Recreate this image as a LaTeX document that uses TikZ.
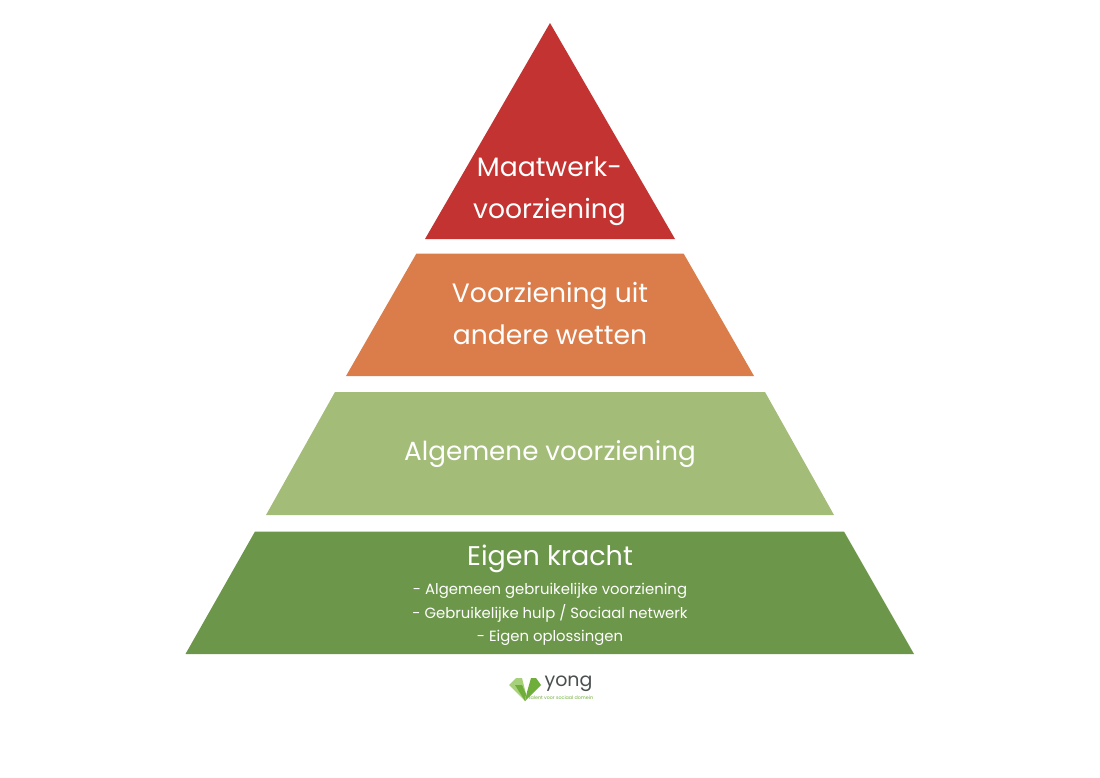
\documentclass[tikz,border=0pt]{standalone}
\usepackage{fontspec}
\setmainfont{Poppins}
\definecolor{cRed}{HTML}{C23331}
\definecolor{cOrange}{HTML}{DB7D4A}
\definecolor{cLight}{HTML}{A3BD79}
\definecolor{cDark}{HTML}{6C964A}
\definecolor{cLogo}{HTML}{6FAE3A}
\definecolor{cLogoL}{HTML}{A6D07A}
\definecolor{cYong}{HTML}{4A4F4F}
\tikzset{
  x=1pt,y=-1pt,
  big/.style={text=white,align=center,font=\fontsize{26.6}{42}\selectfont,inner sep=0pt},
  wide/.style={text=white,align=center,font=\fontsize{26.2}{42}\selectfont,inner sep=0pt},
  head/.style={text=white,align=center,font=\fontsize{27}{30}\selectfont,inner sep=0pt},
  small/.style={text=white,align=center,font=\fontsize{14.85}{23.5}\selectfont,inner sep=0pt},
}
\begin{document}
\begin{tikzpicture}
\useasboundingbox (0,0) rectangle (1100,778);
\fill[cRed] (550,23) -- (675,239) -- (425,239) -- cycle;
\fill[cOrange] (416.3,253.7) -- (683.7,253.7) -- (754,376) -- (346,376) -- cycle;
\fill[cLight] (335,392) -- (765,392) -- (834,515) -- (266,515) -- cycle;
\fill[cDark] (255,531.5) -- (844,531.5) -- (914,654) -- (185.5,654) -- cycle;
\node[big] (maat) at (549.5,191.5) {Maatwerk-\\voorziening};
\node[big] (uit) at (550,313) {Voorziening uit\\andere wetten};
\node[wide] (alg) at (550,454.5) {Algemene voorziening};
\node[head] (eigen) at (550,558.5) {Eigen kracht};
\node[small] (list) at (550,614.5) {- Algemeen gebruikelijke voorziening\\- Gebruikelijke hulp / Sociaal netwerk\\- Eigen oplossingen};
% logo
\fill[cLogoL] (509,685) -- (516,678) -- (522,678) -- (526,694) -- (525,701) -- cycle;
\fill[cLogo] (515,685) -- (522,685) -- (526,694) -- (525,701) -- cycle;
\fill[cLogo] (531,678) -- (536,678) -- (541,685) -- (525,701) -- (527,692) -- cycle;
\node[text=cYong,inner sep=0pt,font=\fontsize{19}{19}\selectfont] (yong) at (568.5,683.5) {yong};
\node[text=cLogo,inner sep=0pt,font=\fontsize{4.8}{5}\selectfont] (tag) at (561,698) {talent voor sociaal domein};
\end{tikzpicture}
\end{document}
